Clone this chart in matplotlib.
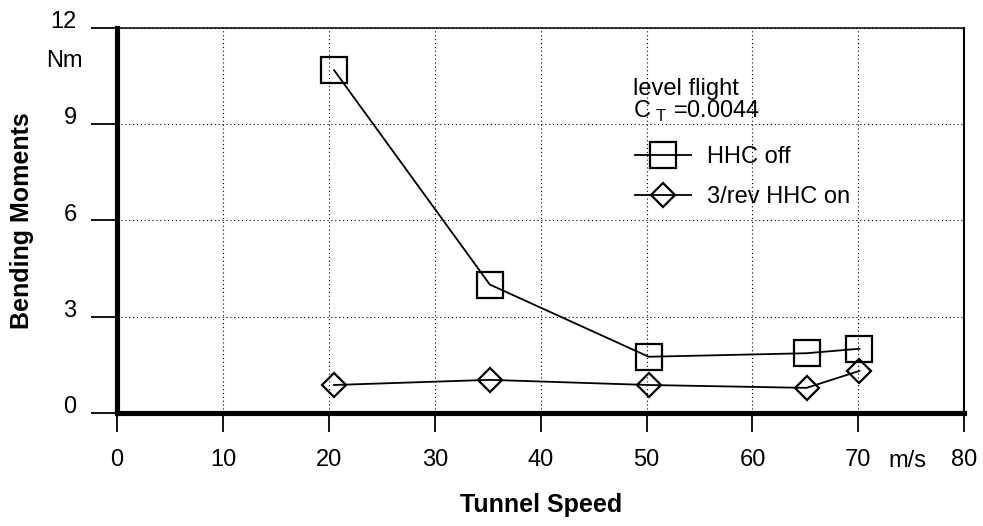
import matplotlib
matplotlib.use('Agg')
import matplotlib.pyplot as plt
from matplotlib.transforms import ScaledTranslation

plt.rcParams['font.family'] = ['Liberation Sans', 'DejaVu Sans']
plt.rcParams['mathtext.fontset'] = 'custom'
plt.rcParams['mathtext.rm'] = 'Liberation Sans'

# data
speed_off = [20.5, 35.2, 50.2, 65.1, 70.1]
moment_off = [10.68, 4.0, 1.75, 1.86, 2.0]
speed_on = [20.5, 35.2, 50.2, 65.1, 70.1]
moment_on = [0.87, 1.03, 0.87, 0.78, 1.31]

x_ticks = [0, 10, 20, 30, 40, 50, 60, 70, 80]
y_ticks = [0, 3, 6, 9, 12]

fig = plt.figure(figsize=(9.83, 5.26), dpi=100)
ax = fig.add_axes([0.119, 0.215, 0.862, 0.732])

ax.plot(speed_off, moment_off, color='black', lw=1.3, marker='s', ms=18.5,
        mfc='none', mec='black', mew=1.6, label='HHC off')
ax.plot(speed_on, moment_on, color='black', lw=1.3, marker='D', ms=12.5,
        mfc='none', mec='black', mew=1.6, label='3/rev HHC on')

ax.set_xlim(0, 80)
ax.set_ylim(0, 12)
ax.set_xticks(x_ticks)
ax.set_yticks(y_ticks)
ax.grid(True, color='black', linestyle=(0, (1, 2.5)), lw=0.8)

ax.tick_params(axis='x', length=14, width=1.3, pad=12, labelsize=17)
ax.tick_params(axis='y', length=19, width=1.3, pad=10, labelsize=17)

# y tick labels sit a little above their ticks in the original
for lab in ax.get_yticklabels():
    lab.set_transform(lab.get_transform() +
                      ScaledTranslation(0, 6 / 72, fig.dpi_scale_trans))

ax.spines['left'].set_linewidth(3.7)
ax.spines['bottom'].set_linewidth(3.7)
ax.spines['top'].set_linewidth(1.1)
ax.spines['right'].set_linewidth(1.5)

ax.set_xlabel('Tunnel Speed', fontsize=18, fontweight='bold', labelpad=16)
ax.set_ylabel('Bending Moments', fontsize=18, fontweight='bold', labelpad=12)

ax.text(-0.04, 0.915, 'Nm', transform=ax.transAxes, fontsize=17,
        ha='right', va='center')
ax.text(0.933, -0.125, 'm/s', transform=ax.transAxes, fontsize=17,
        ha='center', va='center')

# legend header
ax.text(0.609, 0.842, 'level flight', transform=ax.transAxes, fontsize=17,
        ha='left', va='center')
ax.text(0.609, 0.782, 'C$_{\\ \\mathregular{T}}$ =0.0044', transform=ax.transAxes,
        fontsize=17, ha='left', va='center')

ax.legend(loc='upper left', bbox_to_anchor=(0.611, 0.693), frameon=False,
          fontsize=17, handlelength=2.4, handletextpad=0.65, labelspacing=0.75,
          borderpad=0, borderaxespad=0)

fig.savefig('out.png', dpi=100)
